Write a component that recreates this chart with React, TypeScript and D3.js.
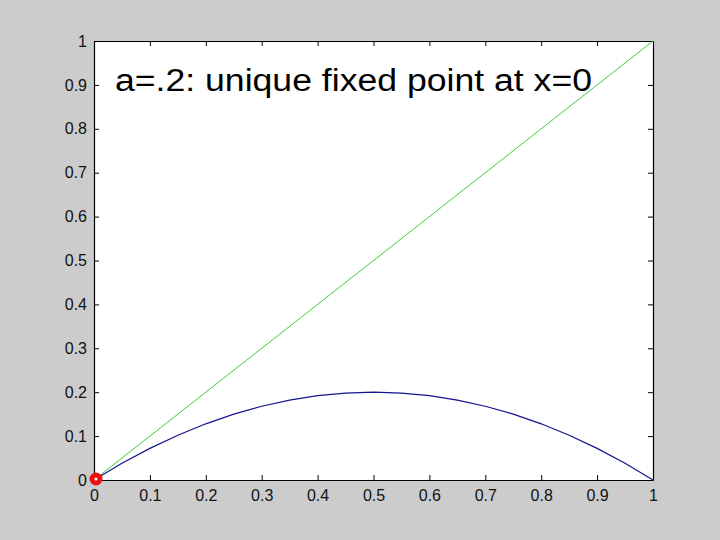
import React, { useRef, useEffect } from 'react';
import * as d3 from 'd3';

const xs = [0, 0.05, 0.1, 0.15, 0.2, 0.25, 0.3, 0.35, 0.4, 0.45, 0.5,
  0.55, 0.6, 0.65, 0.7, 0.75, 0.8, 0.85, 0.9, 0.95, 1];
const blueY = [0, 0.038, 0.072, 0.102, 0.128, 0.15, 0.168, 0.182, 0.192, 0.198, 0.2,
  0.198, 0.192, 0.182, 0.168, 0.15, 0.128, 0.102, 0.072, 0.038, 0];
const greenX = [0, 1];
const greenY = [0, 1];
const fixedPoint = [0, 0];
const ticks = [0, 0.1, 0.2, 0.3, 0.4, 0.5, 0.6, 0.7, 0.8, 0.9, 1];
const title = 'a=.2: unique fixed point at x=0';

const W = 720, H = 540;
const L = 94, R = 653, T = 41, B = 480;

export default function App() {
  const svgRef = useRef<SVGSVGElement>(null);

  useEffect(() => {
    const svg = d3.select(svgRef.current);
    svg.selectAll('*').remove();

    const x = d3.scaleLinear().domain([0, 1]).range([L, R]);
    const y = d3.scaleLinear().domain([0, 1]).range([B, T]);

    svg.append('rect').attr('width', W).attr('height', H).attr('fill', '#cccccc');
    svg.append('rect')
      .attr('x', L).attr('y', T).attr('width', R - L).attr('height', B - T)
      .attr('fill', '#ffffff');

    const font = '"Liberation Sans", Arial, sans-serif';
    const tickLen = 5;

    // box axes, ticks pointing inward on all four sides
    const bottom = svg.append('g').attr('transform', `translate(0,${B})`)
      .call(d3.axisBottom(x).tickValues(ticks).tickSizeInner(-tickLen).tickSizeOuter(0)
        .tickPadding(10).tickFormat(d => String(d)));
    const top = svg.append('g').attr('transform', `translate(0,${T})`)
      .call(d3.axisTop(x).tickValues(ticks).tickSizeInner(-tickLen).tickSizeOuter(0)
        .tickFormat(() => ''));
    const left = svg.append('g').attr('transform', `translate(${L},0)`)
      .call(d3.axisLeft(y).tickValues(ticks).tickSizeInner(-tickLen).tickSizeOuter(0)
        .tickPadding(7).tickFormat(d => String(d)));
    const right = svg.append('g').attr('transform', `translate(${R},0)`)
      .call(d3.axisRight(y).tickValues(ticks).tickSizeInner(-tickLen).tickSizeOuter(0)
        .tickFormat(() => ''));

    [bottom, top, left, right].forEach(g => {
      g.select('.domain').attr('stroke', '#000').attr('stroke-width', 1.2);
      g.selectAll('.tick line').attr('stroke', '#000');
      g.selectAll('.tick text')
        .attr('fill', '#111')
        .style('font-family', font)
        .style('font-size', '16px');
    });

    const line = d3.line<[number, number]>().x(d => x(d[0])).y(d => y(d[1]));

    svg.append('path')
      .attr('d', line(greenX.map((v, i) => [v, greenY[i]]) as [number, number][]))
      .attr('fill', 'none').attr('stroke', '#3ccc3c').attr('stroke-width', 1);

    svg.append('path')
      .attr('d', line(xs.map((v, i) => [v, blueY[i]]) as [number, number][]))
      .attr('fill', 'none').attr('stroke', '#14148c').attr('stroke-width', 1.2);

    svg.append('circle')
      .attr('cx', x(fixedPoint[0]) + 2).attr('cy', y(fixedPoint[1]) - 1)
      .attr('r', 4)
      .attr('fill', '#ffffff').attr('stroke', '#ee1111').attr('stroke-width', 5);

    svg.append('text')
      .attr('x', 115).attr('y', 91)
      .attr('fill', '#000')
      .attr('textLength', 477)
      .attr('lengthAdjust', 'spacingAndGlyphs')
      .style('font-family', font)
      .style('font-size', '31px')
      .text(title);
  }, []);

  return (
    <svg ref={svgRef} width={W} height={H}
      style={{ position: 'absolute', left: 0, top: 0, display: 'block' }} />
  );
}
